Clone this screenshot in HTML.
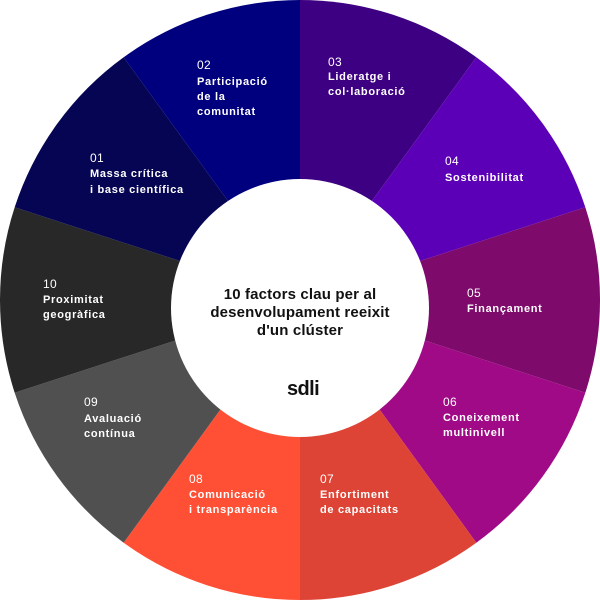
<!DOCTYPE html>
<html>
<head>
<meta charset="utf-8">
<style>
html,body{margin:0;padding:0;background:#fff;}
svg{display:block;}
.n{font-family:"Liberation Sans",sans-serif;font-size:12px;font-weight:normal;fill:#fff;letter-spacing:0.3px;}
.l{font-family:"Liberation Sans",sans-serif;font-size:11px;font-weight:bold;fill:#fff;letter-spacing:0.7px;}
.c{font-family:"Liberation Sans",sans-serif;font-size:15px;font-weight:bold;fill:#111;letter-spacing:0.15px;}
</style>
</head>
<body>
<svg width="600" height="600" viewBox="0 0 600 600" xmlns="http://www.w3.org/2000/svg">
  <!-- sectors -->
  <path d="M300,300 L300,0 A300,300 0 0 1 476.34,57.30 Z" fill="#3d0082"/>
  <path d="M300,300 L476.34,57.30 A300,300 0 0 1 585.32,207.30 Z" fill="#5c00b8"/>
  <path d="M300,300 L585.32,207.30 A300,300 0 0 1 585.32,392.70 Z" fill="#7e0a6b"/>
  <path d="M300,300 L585.32,392.70 A300,300 0 0 1 476.34,542.70 Z" fill="#a00a86"/>
  <path d="M300,300 L476.34,542.70 A300,300 0 0 1 300,600 Z" fill="#de4436"/>
  <path d="M300,300 L300,600 A300,300 0 0 1 123.66,542.70 Z" fill="#ff5035"/>
  <path d="M300,300 L123.66,542.70 A300,300 0 0 1 14.68,392.70 Z" fill="#505050"/>
  <path d="M300,300 L14.68,392.70 A300,300 0 0 1 14.68,207.30 Z" fill="#282828"/>
  <path d="M300,300 L14.68,207.30 A300,300 0 0 1 123.66,57.30 Z" fill="#050553"/>
  <path d="M300,300 L123.66,57.30 A300,300 0 0 1 300,0 Z" fill="#00007f"/>
  <!-- inner hole -->
  <circle cx="300" cy="308" r="129" fill="#fff"/>

  <!-- 02 -->
  <text class="n" x="197" y="69">02</text>
  <text class="l" x="197" y="85">Participació</text>
  <text class="l" x="197" y="100">de la</text>
  <text class="l" x="197" y="115">comunitat</text>
  <!-- 03 -->
  <text class="n" x="328" y="66">03</text>
  <text class="l" x="328" y="80">Lideratge i</text>
  <text class="l" x="328" y="95">col·laboració</text>
  <!-- 01 -->
  <text class="n" x="90" y="162">01</text>
  <text class="l" x="90" y="177">Massa crítica</text>
  <text class="l" x="90" y="193">i base científica</text>
  <!-- 04 -->
  <text class="n" x="445" y="165">04</text>
  <text class="l" x="445" y="181">Sostenibilitat</text>
  <!-- 10 -->
  <text class="n" x="43" y="288">10</text>
  <text class="l" x="43" y="303">Proximitat</text>
  <text class="l" x="43" y="318">geogràfica</text>
  <!-- 05 -->
  <text class="n" x="467" y="297">05</text>
  <text class="l" x="467" y="312">Finançament</text>
  <!-- 09 -->
  <text class="n" x="84" y="406">09</text>
  <text class="l" x="84" y="422">Avaluació</text>
  <text class="l" x="84" y="437">contínua</text>
  <!-- 06 -->
  <text class="n" x="443" y="406">06</text>
  <text class="l" x="443" y="421">Coneixement</text>
  <text class="l" x="443" y="436">multinivell</text>
  <!-- 08 -->
  <text class="n" x="189" y="483">08</text>
  <text class="l" x="189" y="498">Comunicació</text>
  <text class="l" x="189" y="513">i transparència</text>
  <!-- 07 -->
  <text class="n" x="320" y="483">07</text>
  <text class="l" x="320" y="498">Enfortiment</text>
  <text class="l" x="320" y="513">de capacitats</text>

  <!-- center -->
  <text class="c" x="300" y="299" text-anchor="middle">10 factors clau per al</text>
  <text class="c" x="300" y="317" text-anchor="middle">desenvolupament reeixit</text>
  <text class="c" x="300" y="335" text-anchor="middle">d'un clúster</text>
  <text x="303" y="395" text-anchor="middle" font-family="Liberation Sans, sans-serif" font-size="20" font-weight="bold" fill="#111" letter-spacing="-0.6">sdli</text>
</svg>
</body>
</html>
